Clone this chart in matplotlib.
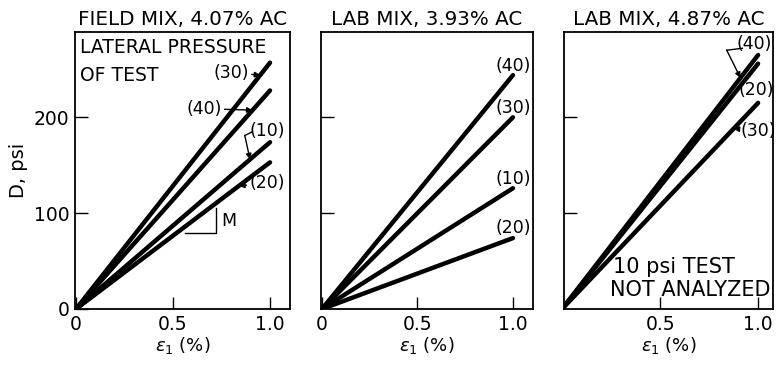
import matplotlib
matplotlib.use("Agg")
import matplotlib.pyplot as plt

# strain (%) at start and end of each fitted line
strain = [0.0, 1.0]

# D (psi) at strain = 1.0, keyed by lateral pressure of test
field_407 = {"30": 257, "40": 228, "10": 174, "20": 153}
lab_393 = {"40": 244, "30": 200, "10": 126, "20": 74}
lab_487 = {"40": 265, "20": 256, "30": 215}

titles = ["FIELD MIX, 4.07% AC", "LAB MIX, 3.93% AC", "LAB MIX, 4.87% AC"]
xticks = [0.5, 1.0]
xticklabels = ["0.5", "1.0"]
yticks = [0, 100, 200]
yticklabels = ["0", "100", "200"]

plt.rcParams["font.family"] = ["DejaVu Sans"]
fig = plt.figure(figsize=(7.77, 3.66), dpi=100)
W, H = 777, 366


def make_ax(left, right, top=32, bottom=309):
    return fig.add_axes([left / W, (H - bottom) / H, (right - left) / W, (bottom - top) / H])


ax1 = make_ax(75, 290)
ax2 = make_ax(321, 533)
ax3 = make_ax(564, 773)
xlims = [(-0.005, 1.103), (-0.005, 1.105), (0.01, 1.076)]

for ax, title, xl in zip([ax1, ax2, ax3], titles, xlims):
    ax.set_xlim(*xl)
    ax.set_ylim(0, 289)
    ax.set_title(title, fontsize=14.3, pad=5)
    ax.set_xticks(xticks)
    ax.set_xticklabels(xticklabels, fontsize=13.5)
    ax.set_yticks([100, 200])
    ax.tick_params(direction="in", length=9, width=1, labelsize=13.5, pad=4)
    ax.tick_params(axis="y", labelleft=False)
    for s in ax.spines.values():
        s.set_linewidth(1.3)
    ax.set_xlabel(r"$\epsilon_1$ (%)", fontsize=13, labelpad=1)

lw = 3.2

# panel 1 - field mix
for k, v in field_407.items():
    ax1.plot(strain, [0, v], color="black", lw=lw, solid_capstyle="round")
ax1.tick_params(axis="y", labelleft=True)
ax1.set_yticks(yticks)
ax1.set_yticklabels(yticklabels)
ax1.set_xticks([0] + xticks)
ax1.set_xticklabels(["0"] + xticklabels)
ax1.set_ylabel("D, psi", fontsize=14, labelpad=4)
ax1.text(0.02, 283, "LATERAL PRESSURE", fontsize=13.5, va="top", ha="left")
ax1.text(0.02, 254, "OF TEST", fontsize=13.5, va="top", ha="left")

arw = dict(arrowstyle="-|>", lw=1, color="black", mutation_scale=8, shrinkA=0, shrinkB=0)
ax1.annotate("(30)", xy=(0.95, field_407["30"] * 0.95), xytext=(0.80, 246),
             fontsize=12.5, ha="center", va="center", arrowprops=arw)
ax1.annotate("(40)", xy=(0.91, field_407["40"] * 0.91), xytext=(0.66, 209),
             fontsize=12.5, ha="center", va="center", arrowprops=arw)
ax1.text(0.985, 186, "(10)", fontsize=12.5, ha="center", va="center")
ax1.plot([0.91, 0.87], [185, 181], color="black", lw=1)
ax1.annotate("", xy=(0.897, field_407["10"] * 0.897), xytext=(0.87, 181), arrowprops=arw)
ax1.annotate("(20)", xy=(0.84, field_407["20"] * 0.84), xytext=(0.985, 131),
             fontsize=12.5, ha="center", va="center", arrowprops=arw)

# slope triangle
m = field_407["20"]
x_a, x_b = 0.56, 0.72
ax1.plot([x_a, x_b, x_b], [m * x_a - 6, m * x_a - 6, m * x_b - 5], color="black", lw=1)
ax1.text(x_b + 0.03, 92, "M", fontsize=12.5, ha="left", va="center")

# panel 2 - lab mix 3.93
for k, v in lab_393.items():
    ax2.plot(strain, [0, v], color="black", lw=lw, solid_capstyle="round")
    ax2.text(1.0, v + 10, "(%s)" % k, fontsize=12.5, ha="center", va="center")
ax2.set_xticks([0] + xticks)
ax2.set_xticklabels(["0"] + xticklabels)

# panel 3 - lab mix 4.87
for k, v in lab_487.items():
    ax3.plot(strain, [0, v], color="black", lw=lw, solid_capstyle="round")
ax3.text(0.98, 277, "(40)", fontsize=12.5, ha="center", va="center")
ax3.plot([0.92, 0.84], [272, 270], color="black", lw=1)
ax3.annotate("", xy=(0.91, 0.91 * lab_487["40"]), xytext=(0.84, 270), arrowprops=arw)
ax3.text(0.99, 229, "(20)", fontsize=12.5, ha="center", va="center")
ax3.annotate("", xy=(0.955, 0.955 * lab_487["20"] - 1), xytext=(0.965, 240),
             arrowprops=dict(arrowstyle="-", lw=1, color="black"))
ax3.annotate("(30)", xy=(0.875, 0.875 * lab_487["30"]), xytext=(1.0, 186),
             fontsize=12.5, ha="center", va="center", arrowprops=arw)
ax3.text(0.26, 44, "10 psi TEST", fontsize=15, ha="left", va="center")
ax3.text(0.245, 20, "NOT ANALYZED", fontsize=15, ha="left", va="center")

fig.savefig("out.png", dpi=100)
